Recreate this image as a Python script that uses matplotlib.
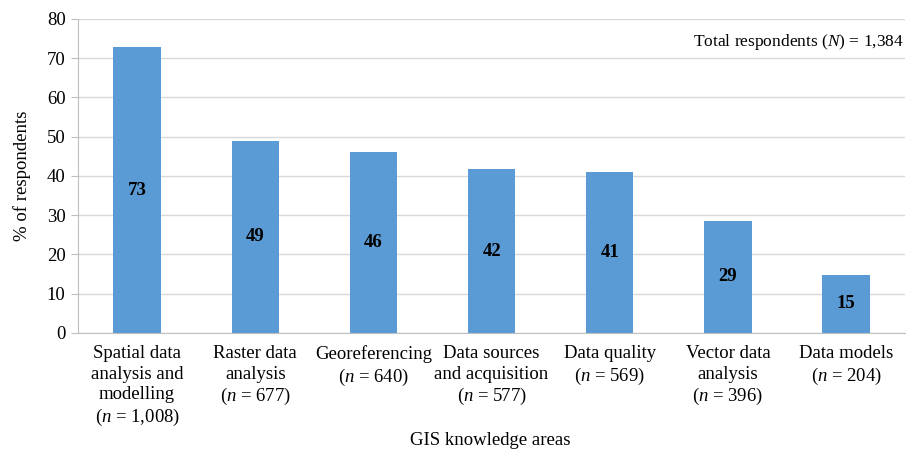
import matplotlib
matplotlib.use("Agg")
import matplotlib.pyplot as plt

# chart data
areas = ["Spatial data\nanalysis and\nmodelling", "Raster data\nanalysis", "Georeferencing",
         "Data sources\nand acquisition", "Data quality", "Vector data\nanalysis", "Data models"]
counts = ["1,008", "677", "640", "577", "569", "396", "204"]
percent = [72.8, 48.9, 46.2, 41.7, 41.1, 28.6, 14.7]
bar_labels = [73, 49, 46, 42, 41, 29, 15]

plt.rcParams['font.family'] = ['Liberation Serif', 'DejaVu Serif']
plt.rcParams['mathtext.fontset'] = 'custom'
plt.rcParams['mathtext.rm'] = 'Liberation Serif'
plt.rcParams['mathtext.it'] = 'Liberation Serif:italic'
plt.rcParams['font.size'] = 13.5

fig = plt.figure(figsize=(9.07, 4.51), dpi=100)
ax = fig.add_axes([0.086, 0.262, 0.912, 0.696])

x = list(range(len(areas)))
ax.bar(x, percent, width=0.4, color="#5B9BD5", zorder=3)
for xi, h, lab in zip(x, percent, bar_labels):
    ax.text(xi, h / 2, str(lab), ha="center", va="center", fontweight="bold", zorder=4)

ticklabels = [a + "\n($\\it{n}$ = " + c + ")" for a, c in zip(areas, counts)]
ax.set_xticks(x)
ax.set_xticklabels(ticklabels, linespacing=1.25)
ax.tick_params(axis="x", length=0, pad=9)
ax.set_xlim(-0.5, len(areas) - 0.5)

ax.set_ylim(0, 80)
ax.set_yticks(range(0, 81, 10))
ax.tick_params(axis="y", length=5, color="#BFBFBF", pad=4)
ax.yaxis.grid(True, color="#D9D9D9", linewidth=1, zorder=0)

for s in ["top", "right"]:
    ax.spines[s].set_visible(False)
ax.spines["left"].set_color("#BFBFBF")
ax.spines["bottom"].set_color("#BFBFBF")

ax.set_ylabel("% of respondents", labelpad=11)
fig.text(0.54, 0.004, "GIS knowledge areas", ha="center", va="bottom")
ax.text(0.998, 0.925, "Total respondents ($\\it{N}$) = 1,384", transform=ax.transAxes,
        ha="right", va="center", fontsize=12.5)

fig.savefig("out.png", dpi=100)
